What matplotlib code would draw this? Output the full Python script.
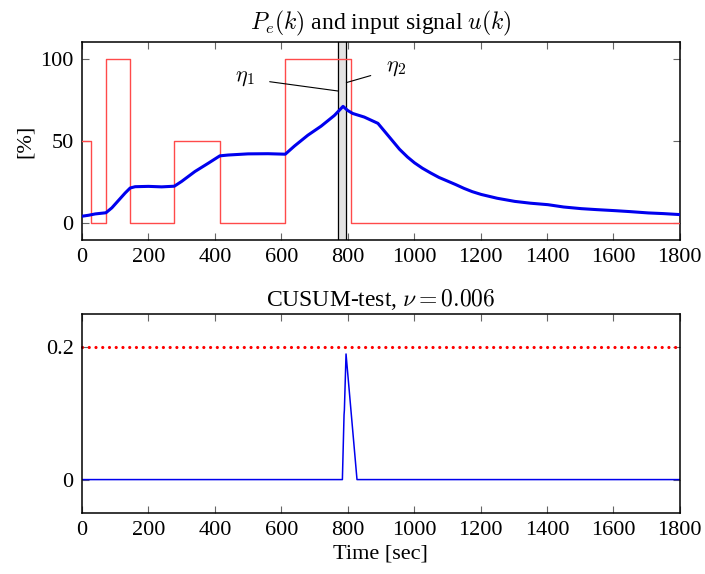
import matplotlib
matplotlib.use("Agg")
import matplotlib.pyplot as plt

plt.rcParams['font.family'] = 'serif'
plt.rcParams['font.serif'] = ['Liberation Serif', 'DejaVu Serif']
plt.rcParams['mathtext.fontset'] = 'cm'

# input signal u(k): switch times and levels (step, post)
u_t = [0, 27, 71, 144, 277, 415, 612, 811, 1800]
u_val = [50, 0, 100, 0, 50, 0, 100, 0, 0]

# P_e(k)
pe_t = [0, 20, 40, 72, 90, 110, 130, 145, 160, 200, 240, 278, 300, 340, 380,
        415, 440, 500, 560, 612, 640, 680, 720, 760, 786, 800, 815, 850, 891,
        925, 956, 980, 1001, 1025, 1050, 1075, 1103, 1125, 1150, 1175, 1202,
        1250, 1303, 1350, 1403, 1450, 1503, 1550, 1603, 1650, 1705, 1750, 1800]
pe_val = [4.4, 5.0, 5.8, 6.5, 9.5, 14.0, 18.5, 21.5, 22.3, 22.5, 22.2, 22.6,
          25.5, 31.5, 36.5, 41.0, 41.5, 42.2, 42.3, 42.0, 47.0, 53.5, 59.0,
          65.5, 71.0, 68.5, 66.7, 64.5, 60.7, 52.5, 45.0, 40.3, 36.8, 33.5,
          30.6, 27.9, 25.5, 23.6, 21.3, 19.3, 17.6, 15.3, 13.4, 12.3, 11.4,
          10.0, 9.0, 8.4, 7.8, 7.2, 6.4, 6.0, 5.4]

# detection window
eta1, eta2 = 771, 796

# CUSUM test statistic
cusum_t = [0, 784, 789, 790, 795, 828, 1800]
cusum_val = [0, 0, 0.098, 0.105, 0.19, 0, 0]
threshold = 0.2

xticks = list(range(0, 1801, 200))

fig = plt.figure(figsize=(7.05, 5.74), dpi=100)
ax1 = fig.add_axes([0.1163, 0.5819, 0.848, 0.3449])
ax2 = fig.add_axes([0.1163, 0.1069, 0.848, 0.3455])

ax1.axvspan(eta1, eta2, color='#e3e3e3', zorder=1)
ax1.axvline(eta1, color='k', lw=0.9, zorder=2)
ax1.axvline(eta2, color='k', lw=0.9, zorder=2)
ax1.step(u_t, u_val, where='post', color='#ff4a4a', lw=1.0, zorder=3)
ax1.plot(pe_t, pe_val, color='#0000ee', lw=2.2, zorder=4)
ax1.set_xlim(0, 1800)
ax1.set_ylim(-10, 110)
ax1.set_yticks([0, 50, 100])
ax1.set_xticks(xticks)
ax1.set_ylabel('[%]', fontsize=16, labelpad=4)
ax1.set_title('$P_e(k)$ and input signal $u(k)$', fontsize=17, pad=9)
ax1.annotate('$\\eta_1$', xy=(eta1, 80.3), xytext=(490, 88), fontsize=16,
             ha='center', va='center',
             arrowprops=dict(arrowstyle='-', color='k', lw=0.8, shrinkA=9, shrinkB=0))
ax1.annotate('$\\eta_2$', xy=(eta2, 85.4), xytext=(944, 94), fontsize=16,
             ha='center', va='center',
             arrowprops=dict(arrowstyle='-', color='k', lw=0.8, shrinkA=9, shrinkB=0))

ax2.plot(cusum_t, cusum_val, color='#0000ee', lw=1.1)
ax2.plot([0, 1800], [threshold, threshold], color='red', lw=2.3,
         linestyle=(0, (0.01, 2.1)), dash_capstyle='round', clip_on=False)
ax2.set_xlim(0, 1800)
ax2.set_ylim(-0.05, 0.25)
ax2.set_yticks([0, 0.2])
ax2.set_yticklabels(['0', '0.2'])
ax2.set_xticks(xticks)
ax2.set_xlabel('Time [sec]', fontsize=16, labelpad=3)
ax2.set_title('CUSUM-test, $\\nu = 0.006$', fontsize=17, pad=6)

for ax in (ax1, ax2):
    ax.tick_params(direction='in', top=True, right=True, length=5,
                   width=0.8, color='0.4', labelsize=16, pad=6)
    for s in ax.spines.values():
        s.set_linewidth(1.1)

fig.savefig('out.png', dpi=100)
